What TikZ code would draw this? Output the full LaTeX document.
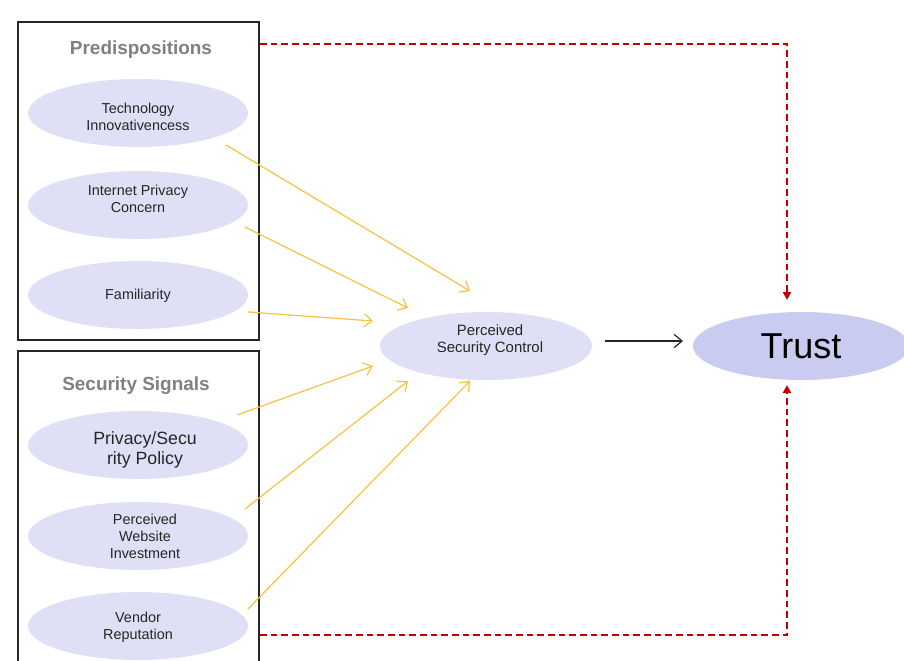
\documentclass[tikz,border=0pt]{standalone}
\usepackage{fontspec}
\setmainfont{Liberation Sans}
\usetikzlibrary{arrows.meta,shapes.geometric}
\definecolor{ellfill}{HTML}{DFE0F5}
\definecolor{trustfill}{HTML}{C9CBF0}
\definecolor{arrowyellow}{HTML}{F5C242}
\definecolor{dashred}{HTML}{C00000}
\definecolor{titlegray}{HTML}{808080}
\begin{document}
\begin{tikzpicture}[x=0.75pt,y=-0.75pt,
  factor/.style={ellipse,fill=ellfill,minimum width=165pt,minimum height=51pt,inner sep=0pt},
  ftext/.style={align=center,inner sep=0pt,font=\fontsize{10.8}{12.8}\selectfont,text=black!85},
  groupbox/.style={draw=black!85,line width=0.8pt},
  grouptitle/.style={font=\bfseries\fontsize{14.2}{16}\selectfont,text=titlegray},
  yarrow/.style={draw=arrowyellow,line width=0.9pt,-{Straight Barb[length=6pt,width=10pt]}},
  redlink/.style={draw=dashred,line width=1.5pt,dash pattern=on 5pt off 3pt,-{Triangle[length=6pt,width=6pt]}}]
\useasboundingbox (0,0) rectangle (904,661);
% group boxes
\draw[groupbox] (18,22) rectangle (259,340);
\draw[groupbox] (18,351) rectangle (259,670);
\node[grouptitle] (t1) at (141,50) {Predispositions};
\node[grouptitle] (t2) at (136,386) {Security Signals};
% factor ellipses
\node[factor] (e1) at (138,113) {};
\node[factor] (e2) at (138,205) {};
\node[factor] (e3) at (138,295) {};
\node[factor] (e4) at (138,445) {};
\node[factor] (e5) at (138,536) {};
\node[factor] (e6) at (138,626) {};
\node[ftext] (e1t) at (138,117) {Technology\\Innovativencess};
\node[ftext] (e2t) at (138,199) {Internet Privacy\\Concern};
\node[ftext] (e3t) at (138,296) {Familiarity};
\node[ftext,font=\fontsize{13.3}{15}\selectfont] (e4t) at (145,450) {Privacy/Secu\\rity Policy};
\node[ftext] (e5t) at (145,536) {Perceived\\Website\\Investment};
\node[ftext] (e6t) at (138,627) {Vendor\\Reputation};
% mediator and outcome
\node[factor,minimum width=159pt] (psc) at (486,346) {};
\node[ftext,font=\fontsize{11.2}{13}\selectfont] (psct) at (490,340) {Perceived\\Security Control};
\node[ellipse,fill=trustfill,minimum width=162pt,minimum height=51pt,inner sep=0pt,font=\fontsize{27}{30}\selectfont,text=black] (trust) at (801,346) {Trust};
% connector endpoints
\coordinate (a1s) at (226,145); \coordinate (a1e) at (470,291);
\coordinate (a2s) at (245,227); \coordinate (a2e) at (408,308);
\coordinate (a3s) at (248,312); \coordinate (a3e) at (373,321);
\coordinate (a4s) at (237,415); \coordinate (a4e) at (373,366);
\coordinate (a5s) at (245,509); \coordinate (a5e) at (408,381);
\coordinate (a6s) at (248,609); \coordinate (a6e) at (470,381);
\draw[yarrow] (a1s) -- (a1e);
\draw[yarrow] (a2s) -- (a2e);
\draw[yarrow] (a3s) -- (a3e);
\draw[yarrow] (a4s) -- (a4e);
\draw[yarrow] (a5s) -- (a5e);
\draw[yarrow] (a6s) -- (a6e);
% main arrow
\coordinate (ms) at (605,341); \coordinate (me) at (683,341);
\draw[black!85,line width=0.9pt,-{Straight Barb[length=6pt,width=10pt]}] (ms) -- (me);
% red dashed links
\coordinate (r1s) at (260,44); \coordinate (r1c) at (787,44); \coordinate (r1e) at (787,300);
\coordinate (r2s) at (260,635); \coordinate (r2c) at (787,635); \coordinate (r2e) at (787,385);
\draw[redlink] (r1s) -- (r1c) -- (r1e);
\draw[redlink] (r2s) -- (r2c) -- (r2e);
\end{tikzpicture}
\end{document}
